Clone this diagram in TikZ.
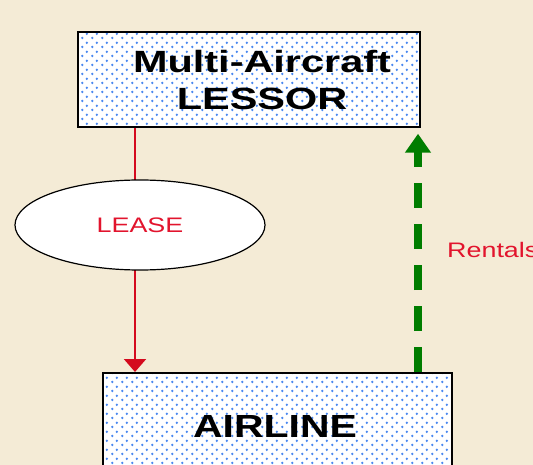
\documentclass[tikz,border=0pt]{standalone}
\usepackage{fontspec}
\setmainfont{Liberation Sans}
\usetikzlibrary{shapes.geometric,patterns.meta,arrows.meta}
\definecolor{paper}{HTML}{F4EBD6}
\definecolor{dotblue}{HTML}{4A88F0}
\definecolor{leasered}{HTML}{D40A1E}
\definecolor{labelred}{HTML}{E2142D}
\definecolor{rentgreen}{RGB}{0,125,0}
\newcommand{\wide}[2][1.3]{\scalebox{#1}[1]{#2}}
% staggered dot fill for the two party boxes
\pgfdeclarepattern{
  name=stagdots,
  type=uncolored,
  bottom left={\pgfpointorigin},
  top right={\pgfpoint{10pt}{8.6pt}},
  tile size={\pgfpoint{10pt}{8.6pt}},
  code={
    \pgfpathcircle{\pgfpoint{2.5pt}{2.15pt}}{1.4pt}
    \pgfpathcircle{\pgfpoint{7.5pt}{6.45pt}}{1.4pt}
    \pgfusepath{fill}
  }
}
\tikzset{
  dotbox/.style={draw=black, line width=1.5pt, rectangle, inner sep=0pt,
    preaction={fill=white},
    pattern=stagdots, pattern color=dotblue},
  boxtitle/.style={font=\fontsize{30.7}{37}\selectfont\bfseries, align=center, inner sep=0pt},
  leaseflow/.style={draw=leasered, line width=2pt, -{Triangle[length=13pt, width=22pt]}},
  rentflow/.style={draw=rentgreen, line width=8pt, dash pattern=on 25pt off 16pt,
    -{Triangle[length=19pt, width=25pt]}},
  smalllabel/.style={font=\fontsize{21}{25}\selectfont, text=labelred, inner sep=0pt}
}
\begin{document}
\begin{tikzpicture}[x=1pt, y=-1pt]
  \useasboundingbox (0,0) rectangle (533,465);
  \clip (0,0) rectangle (533,465);
  \fill[paper] (0,0) rectangle (533,465);

  % the two parties
  \node[dotbox, minimum width=342pt, minimum height=95pt] (lessor) at (249,79.5) {};
  \node[boxtitle] (lessortext) at (262,80) {\wide[1.35]{Multi-Aircraft}\\\wide[1.35]{LESSOR}};
  \node[dotbox, minimum width=349pt, minimum height=120pt, anchor=north west] (airline) at (102,372) {};
  \node[boxtitle, font=\fontsize{32}{38}\selectfont\bfseries, anchor=base] (airlinetext) at (275,437) {\wide[1.28]{AIRLINE}};

  % lease flow, lessor to airline
  \coordinate (leasex) at (135,0);
  \draw[leaseflow] (lessor.south -| leasex) -- (airline.north -| leasex);
  \node[ellipse, draw=black, line width=1.2pt, fill=white, minimum width=250pt,
        minimum height=90pt, inner sep=0pt, smalllabel] (lease) at (140,225) {\wide[1.28]{LEASE}};

  % rentals flow, airline back to lessor
  \coordinate (rentx) at (418,0);
  \draw[rentflow, shorten >=6pt] (airline.north -| rentx) -- (lessor.south -| rentx);
  \node[smalllabel, anchor=base west] (rentals) at (447,258) {\wide[1.28]{Rentals}};
\end{tikzpicture}
\end{document}
